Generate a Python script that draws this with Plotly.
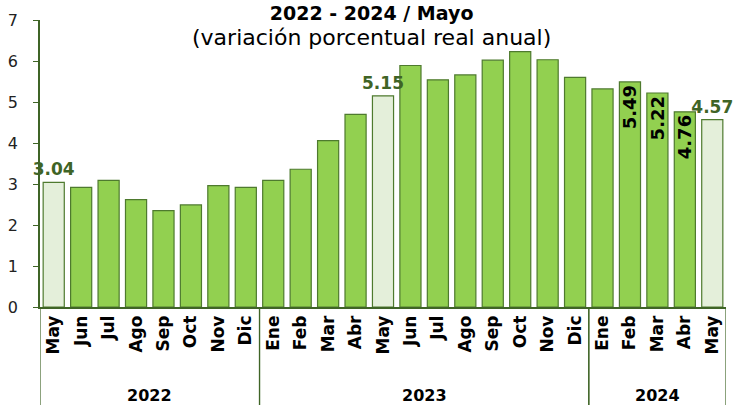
import plotly.graph_objects as go

# data
years = ["2022"] * 8 + ["2023"] * 12 + ["2024"] * 5
months = ["May", "Jun", "Jul", "Ago", "Sep", "Oct", "Nov", "Dic",
          "Ene", "Feb", "Mar", "Abr", "May", "Jun", "Jul", "Ago", "Sep", "Oct", "Nov", "Dic",
          "Ene", "Feb", "Mar", "Abr", "May"]
values = [3.04, 2.92, 3.09, 2.62, 2.35, 2.49, 2.96, 2.92,
          3.09, 3.36, 4.06, 4.70, 5.15, 5.89, 5.54, 5.66, 6.02, 6.23, 6.03, 5.60,
          5.32, 5.49, 5.22, 4.76, 4.57]
outside_labels = {0, 12, 24}      # May values, labelled above the bar
inside_labels = {21, 22, 23}      # Feb-Abr 2024, labelled inside the bar

green = "#92D050"
light = "#E4EFDA"
edge = "#4E7A2E"
dark = "#3F6426"
font = "DejaVu Sans"

idx = list(range(len(values)))
colors = [light if m == "May" else green for m in months]
clear = dict(color="rgba(0,0,0,0)", line=dict(width=0))

fig = go.Figure()
# the bars
fig.add_trace(go.Bar(
    x=idx, y=values,
    marker=dict(color=colors, line=dict(color=edge, width=1.2)),
    hoverinfo="skip",
))
# labels above the May bars (separate trace so they sit on top of neighbours)
fig.add_trace(go.Bar(
    x=idx, y=values, marker=clear,
    text=[f"{v:.2f}" if i in outside_labels else "" for i, v in enumerate(values)],
    textposition="outside", constraintext="none", cliponaxis=False,
    textfont=dict(family=font, size=17, color=dark, weight="bold"),
    hoverinfo="skip",
))
# rotated labels inside the last bars
fig.add_trace(go.Bar(
    x=idx, y=values, marker=clear,
    text=[f"{v:.2f}" if i in inside_labels else "" for i, v in enumerate(values)],
    textposition="inside", insidetextanchor="end", textangle=-90, constraintext="none",
    textfont=dict(family=font, size=18, color="black", weight="bold"),
    hoverinfo="skip",
))

fig.update_layout(
    width=742, height=405,
    margin=dict(l=40, r=16, t=20, b=98),
    barmode="overlay", bargap=0.23,
    showlegend=False,
    plot_bgcolor="white", paper_bgcolor="white",
    font=dict(family=font, color="black"),
)
fig.update_xaxes(
    range=[-0.5, len(values) - 0.5], automargin=False,
    tickvals=idx, ticktext=months, tickangle=-90,
    tickfont=dict(family=font, size=17, color="black", weight="bold"),
    showline=True, linecolor=dark, linewidth=1.5,
    ticks="", showgrid=False, zeroline=False,
)
fig.update_yaxes(
    range=[0, 7], dtick=1, automargin=False,
    showline=True, linecolor=dark, linewidth=1.5,
    ticks="outside", ticklen=5, tickcolor=dark,
    ticklabelstandoff=12,
    tickfont=dict(family=font, size=16, color="#222"),
    showgrid=False, zeroline=False,
)

# year groups: label at the middle, dividers at the edges
groups = []
for i, yr in enumerate(years):
    if not groups or groups[-1][0] != yr:
        groups.append([yr, i, i])
    else:
        groups[-1][2] = i
for yr, first, last in groups:
    fig.add_annotation(text=f"<b>{yr}</b>", x=(first + last) / 2, y=-0.307,
                       xref="x", yref="paper", showarrow=False, yanchor="middle",
                       font=dict(family=font, size=16, color="black"))
    for edge_x in (first - 0.5, last + 0.5):
        fig.add_shape(type="line", x0=edge_x, x1=edge_x, y0=0, y1=-0.35,
                      xref="x", yref="paper", line=dict(color=dark, width=1.2))

# two-line title in one box
fig.add_annotation(
    text="<b>2022 - 2024 / Mayo</b><br>"
         "<span style='font-size:22px'>(variación porcentual real anual)</span>",
    xref="paper", yref="paper", x=0.483, y=1.069,
    showarrow=False, yanchor="top", align="center",
    font=dict(family=font, size=19, color="black"),
)

# drop the default page margin so the figure fills the window
fig.write_html("out.html", config={"displayModeBar": False},
               post_script="document.body.style.margin='0';")
